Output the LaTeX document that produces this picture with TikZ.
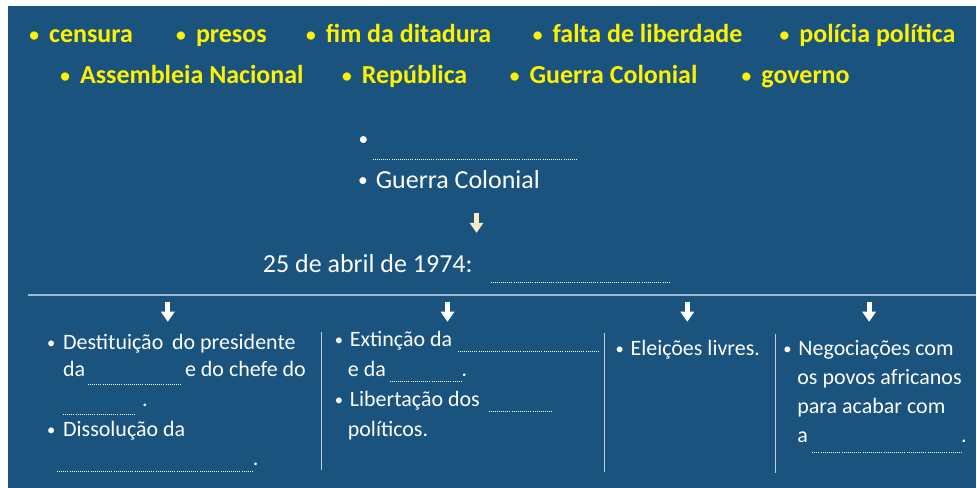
\documentclass[tikz,border=0pt]{standalone}
\usepackage{fontspec}
\setmainfont{Carlito}
\usetikzlibrary{arrows.meta}
\definecolor{slideblue}{RGB}{25,83,126}
\definecolor{ruleblue}{RGB}{160,185,210}
\definecolor{sepgray}{RGB}{195,205,218}
\definecolor{cream}{RGB}{255,232,200}
\newcommand{\bul}[1][0.31em]{\llap{\raisebox{0.07em}{\scalebox{0.75}{\textbullet}}\hspace{#1}}}

\begin{document}
\begin{tikzpicture}[x=1bp,y=-1bp,
    word/.style  = {yellow,font=\fontsize{26bp}{30bp}\selectfont\bfseries,anchor=base west,inner sep=0pt},
    big/.style   = {white,font=\fontsize{26bp}{30bp}\selectfont,anchor=base west,inner sep=0pt},
    small/.style = {white,font=\fontsize{22bp}{26bp}\selectfont,anchor=base west,inner sep=0pt},
    blank/.style = {white,line width=1.1bp,dash pattern=on 1bp off 1.1bp},
    arrow/.style = {white,line width=5bp,-{Triangle[width=14bp,length=10bp,line width=0pt]}}]
                    \fill[white]     (0,0) rectangle (977,488);
                    \fill[slideblue] (8,6) rectangle (977,488);

                    % words to choose from
                    \node[word] (censura)    at (49,43)  {\bul[0.39em]censura};
                    \node[word] (presos)     at (196,43) {\bul[0.39em]presos};
                    \node[word] (fim)        at (326,43) {\bul[0.39em]fim da ditadura};
                    \node[word] (falta)      at (553,43) {\bul[0.39em]falta de liberdade};
                    \node[word] (policia)    at (800,43) {\bul[0.39em]polícia política};
                    \node[word] (assembleia) at (80,84)  {\bul[0.39em]Assembleia Nacional};
                    \node[word] (republica)  at (362,84) {\bul[0.39em]República};
                    \node[word] (guerra)     at (530,84) {\bul[0.39em]Guerra Colonial};
                    \node[word] (governo)    at (762,84) {\bul[0.39em]governo};

                    % causes
                    \node[big] (causa1) at (376,147) {\bul\strut};
                    \draw[blank] (373,160) -- (577,160);
                    \node[big] (causa2) at (376,189) {\bul Guerra Colonial};

                    \coordinate (c1) at (477,213);
                    \coordinate (c2) at (477,233);
                    \draw[arrow,cream] (c1) -- (c2);

                    \node[big] (abril) at (263,273) {25 de abril de 1974:};
                    \draw[blank] (491,283) -- (671,283);

                    \draw[ruleblue,line width=2bp] (28,295) -- (977,295);

                    % consequences
                    \foreach \n/\x in {a/168, b/448, c/688, d/870}{
                        \coordinate (\n1) at (\x,302);
                        \coordinate (\n2) at (\x,322);
                        \draw[arrow] (\n1) -- (\n2);
                    }

                    \draw[sepgray,line width=1bp] (322,332) -- (322,470);
                    \draw[sepgray,line width=1bp] (605,333) -- (605,472);
                    \draw[sepgray,line width=1bp] (776,334) -- (776,473);

                    \node[small] (dest)  at (63,350)  {\bul[0.36em]Destituição\hspace{0.4em}do presidente};
                    \node[small] (da1)   at (63,377)  {da};
                    \draw[blank] (88,385) -- (182,385);
                    \node[small] (chefe) at (185,377) {e do chefe do};
                    \draw[blank] (63,415) -- (136,415);
                    \node[small] (pt1)   at (142,407) {.};
                    \node[small] (diss)  at (63,437)  {\bul[0.36em]Dissolução da};
                    \draw[blank] (57,472) -- (253,472);
                    \node[small] (pt2)   at (253,466) {.};

                    \node[small] (ext)   at (350,347) {\bul Extinção da};
                    \draw[blank] (458,352) -- (599,352);
                    \node[small] (eda)   at (348,377) {e da};
                    \draw[blank] (390,382) -- (463,382);
                    \node[small] (pt3)   at (462,377) {.};
                    \node[small] (lib)   at (350,407) {\bul Libertação dos};
                    \draw[blank] (489,412) -- (554,412);
                    \node[small] (pol)   at (348,437) {políticos.};

                    \node[small] (ele)   at (631,356) {\bul Eleições livres.};

                    \node[small] (neg)   at (799,356) {\bul Negociações com};
                    \node[small] (povos) at (798,385) {os povos africanos};
                    \node[small] (acab)  at (798,414) {para acabar com};
                    \node[small] (a)     at (798,443) {a};
                    \draw[blank] (813,453) -- (963,453);
                    \node[small] (pt4)   at (962,443) {.};
\end{tikzpicture}
\end{document}
